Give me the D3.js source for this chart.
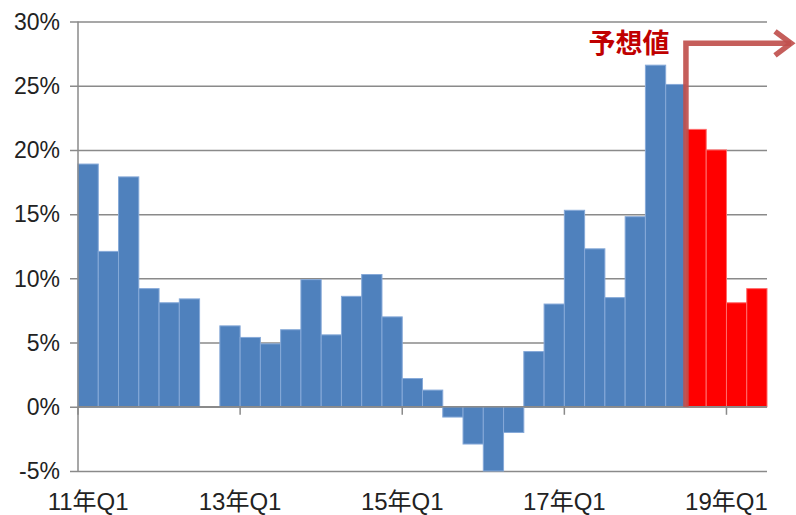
<!DOCTYPE html>
<html>
<head>
<meta charset="utf-8">
<script src="https://cdn.jsdelivr.net/npm/d3@7"></script>
<style>
  html, body { margin: 0; padding: 0; background: #fff; }
  svg { display: block; }
</style>
</head>
<body>
<svg id="chart" width="796" height="515"></svg>
<script>
// Quarterly growth rate (%), 2011 Q1 – 2019 Q2; null = no value reported
const quarters = [
  "11年Q1","11年Q2","11年Q3","11年Q4",
  "12年Q1","12年Q2","12年Q3","12年Q4",
  "13年Q1","13年Q2","13年Q3","13年Q4",
  "14年Q1","14年Q2","14年Q3","14年Q4",
  "15年Q1","15年Q2","15年Q3","15年Q4",
  "16年Q1","16年Q2","16年Q3","16年Q4",
  "17年Q1","17年Q2","17年Q3","17年Q4",
  "18年Q1","18年Q2","18年Q3","18年Q4",
  "19年Q1","19年Q2"
];
const growth = [
  18.9, 12.1, 17.9, 9.2,
  8.1, 8.4, null, 6.3,
  5.4, 4.9, 6.0, 9.9,
  5.6, 8.6, 10.3, 7.0,
  2.2, 1.3, -0.8, -2.9,
  -5.0, -2.0, 4.3, 8.0,
  15.3, 12.3, 8.5, 14.8,
  26.6, 25.1, 21.6, 20.0,
  8.1, 9.2
];
// First quarter that is a forecast
const forecastStart = "18年Q3";
const xTickLabels = ["11年Q1","13年Q1","15年Q1","17年Q1","19年Q1"];
const yTicks = [-5, 0, 5, 10, 15, 20, 25, 30];
const annotationText = "予想値";

const svg = d3.select("#chart");
const plotLeft = 78, plotRight = 767, plotTop = 21.5, plotBottom = 471;

const x = d3.scaleBand().domain(quarters).range([plotLeft, plotRight]).padding(0);
const y = d3.scaleLinear().domain([-5, 30]).range([plotBottom, plotTop]);

const latin = "'Liberation Sans', Arial, 'Noto Sans CJK JP', sans-serif";
const cjk = "'Noto Sans CJK JP', sans-serif";

// Horizontal gridlines (with small outward ticks)
svg.append("g")
  .attr("transform", `translate(${plotLeft},0)`)
  .call(d3.axisLeft(y).tickValues(yTicks).tickSize(-(plotRight - plotLeft)).tickFormat(""))
  .call(g => g.select(".domain").remove())
  .call(g => g.selectAll(".tick line")
    .attr("x1", -8)
    .attr("stroke", "#8a8a8a").attr("stroke-width", 1.5));

// Y labels
svg.append("g").selectAll("text")
  .data(yTicks).join("text")
  .attr("x", 60)
  .attr("y", d => y(d))
  .attr("dy", "0.36em")
  .attr("text-anchor", "end")
  .attr("font-family", latin)
  .attr("font-size", 23)
  .attr("fill", "#222")
  .text(d => d + "%");

// Bars
const forecastIndex = quarters.indexOf(forecastStart);
const data = quarters.map((q, i) => ({ q, v: growth[i], forecast: i >= forecastIndex }));
svg.append("g").selectAll("rect")
  .data(data.filter(d => d.v !== null)).join("rect")
  .attr("x", d => x(d.q))
  .attr("width", x.bandwidth())
  .attr("y", d => y(Math.max(0, d.v)))
  .attr("height", d => Math.abs(y(d.v) - y(0)))
  .attr("fill", d => d.forecast ? "#ff0000" : "#4f81bd")
  .attr("stroke", d => d.forecast ? "#ff6b6b" : "#86a9d8")
  .attr("stroke-width", 1);

// Vertical value axis line
svg.append("line")
  .attr("x1", plotLeft).attr("x2", plotLeft)
  .attr("y1", plotTop).attr("y2", plotBottom)
  .attr("stroke", "#8a8a8a").attr("stroke-width", 1.5);

// Category axis at zero with ticks every two years
const xAxis = svg.append("g").attr("transform", `translate(0,${y(0)})`);
xAxis.append("line")
  .attr("x1", plotLeft).attr("x2", plotRight)
  .attr("stroke", "#8a8a8a").attr("stroke-width", 1.5);
xAxis.selectAll("line.tk")
  .data(xTickLabels).join("line").attr("class", "tk")
  .attr("x1", d => x(d)).attr("x2", d => x(d))
  .attr("y1", 0).attr("y2", 8)
  .attr("stroke", "#8a8a8a").attr("stroke-width", 1.5);

// Category labels along the bottom (first one kept inside the chart edge)
svg.append("g").selectAll("text")
  .data(xTickLabels).join("text")
  .attr("x", d => d === quarters[0] ? x(d) + x.bandwidth() / 2 : x(d))
  .attr("y", 510)
  .attr("text-anchor", "middle")
  .attr("font-family", latin)
  .attr("font-size", 24)
  .attr("fill", "#222")
  .text(d => d);

// Forecast marker: bent arrow starting at the first forecast quarter
const fx = x(forecastStart);
const ay = y(28.3);
const arrow = svg.append("g")
  .attr("fill", "none")
  .attr("stroke", "#c0504d")
  .attr("stroke-width", 5.5)
  .attr("stroke-opacity", 0.92);
arrow.append("path")
  .attr("d", `M${fx},${y(0)} V${ay} H${791}`);
arrow.append("path")
  .attr("stroke-linejoin", "miter")
  .attr("d", `M${775},${ay - 12} L${791},${ay} L${775},${ay + 12}`);

svg.append("text")
  .attr("x", 629)
  .attr("y", ay + 10)
  .attr("text-anchor", "middle")
  .attr("font-family", cjk)
  .attr("font-weight", "bold")
  .attr("font-size", 27)
  .attr("fill", "#c00000")
  .text(annotationText);
</script>
</body>
</html>
